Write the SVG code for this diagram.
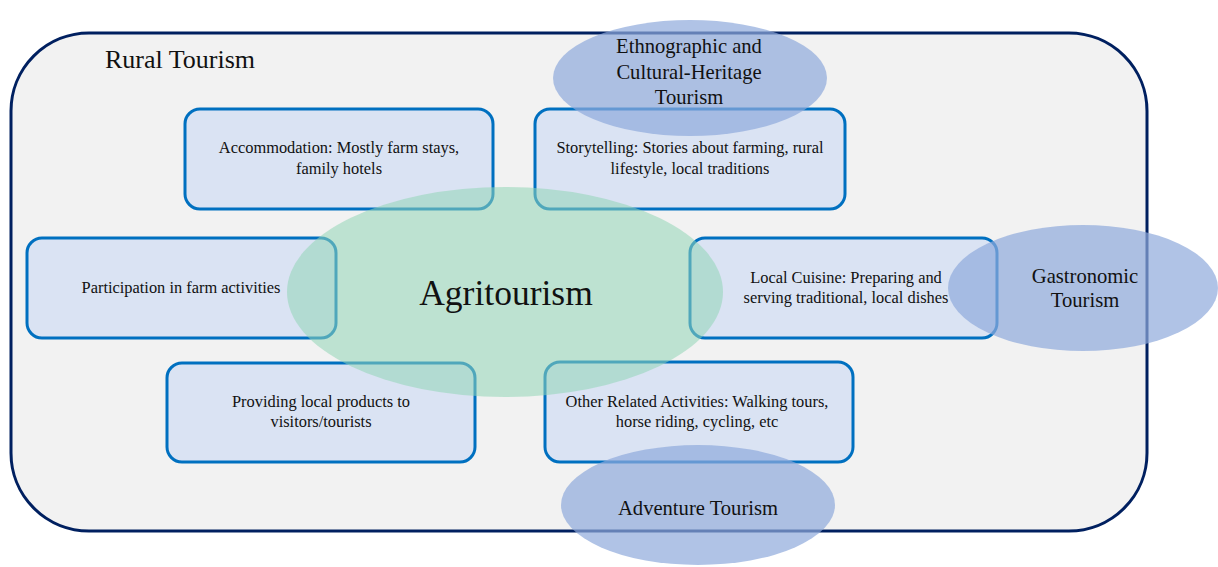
<svg xmlns="http://www.w3.org/2000/svg" width="1218" height="567" viewBox="0 0 1218 567">
  <style>
    .frame { fill: #f2f2f2; stroke: #002060; stroke-width: 3; }
    .box { fill: #dae3f3; stroke: #0070c0; stroke-width: 3; }
    .core { fill: #92d6b6; fill-opacity: 0.55; }
    .related { fill: #8faadc; fill-opacity: 0.7; }
    text { font-family: "Liberation Serif", "DejaVu Serif", serif; fill: #111; text-anchor: middle; }
    .t-box { font-size: 16.4px; }
    .t-rel { font-size: 20.6px; }
    .t-title { font-size: 26px; text-anchor: start; }
    .t-core { font-size: 35.5px; }
  </style>

  <!-- Rural Tourism frame -->
  <g id="rural-tourism">
    <rect class="frame" x="11" y="33" width="1136" height="498" rx="78" ry="78"/>
    <text class="t-title" x="105" y="68">Rural Tourism</text>
  </g>

  <!-- Activity boxes -->
  <g id="accommodation">
    <rect class="box" x="185" y="109" width="308" height="100" rx="15"/>
    <text class="t-box" x="339" y="153">Accommodation: Mostly farm stays,</text>
    <text class="t-box" x="339" y="174">family hotels</text>
  </g>
  <g id="storytelling">
    <rect class="box" x="535" y="109" width="310" height="100" rx="15"/>
    <text class="t-box" x="690" y="153">Storytelling: Stories about farming, rural</text>
    <text class="t-box" x="690" y="174">lifestyle, local traditions</text>
  </g>
  <g id="participation">
    <rect class="box" x="27" y="238" width="309" height="100" rx="15"/>
    <text class="t-box" x="181" y="293">Participation in farm activities</text>
  </g>
  <g id="local-cuisine">
    <rect class="box" x="690" y="238" width="307" height="100" rx="15"/>
    <text class="t-box" x="846" y="283">Local Cuisine: Preparing and</text>
    <text class="t-box" x="846" y="303">serving traditional, local dishes</text>
  </g>
  <g id="local-products">
    <rect class="box" x="167" y="363" width="308" height="99" rx="15"/>
    <text class="t-box" x="321" y="407">Providing local products to</text>
    <text class="t-box" x="321" y="427">visitors/tourists</text>
  </g>
  <g id="other-activities">
    <rect class="box" x="545" y="362" width="308" height="100" rx="15"/>
    <text class="t-box" x="697" y="407">Other Related Activities: Walking tours,</text>
    <text class="t-box" x="697" y="427">horse riding, cycling, etc</text>
  </g>

  <!-- Agritourism core -->
  <g id="agritourism">
    <ellipse class="core" cx="505" cy="292" rx="218" ry="105"/>
    <text class="t-core" x="506" y="305">Agritourism</text>
  </g>

  <!-- Related forms of tourism -->
  <g id="ethnographic">
    <ellipse class="related" cx="690" cy="78" rx="137" ry="58"/>
    <text class="t-rel" x="689" y="53">Ethnographic and</text>
    <text class="t-rel" x="689" y="79">Cultural-Heritage</text>
    <text class="t-rel" x="689" y="104">Tourism</text>
  </g>
  <g id="gastronomic">
    <ellipse class="related" cx="1083" cy="288" rx="135" ry="63"/>
    <text class="t-rel" x="1085" y="283">Gastronomic</text>
    <text class="t-rel" x="1085" y="307">Tourism</text>
  </g>
  <g id="adventure">
    <ellipse class="related" cx="698" cy="505" rx="137" ry="60"/>
    <text class="t-rel" x="698" y="515">Adventure Tourism</text>
  </g>

  <g id="connectors"/>
</svg>
